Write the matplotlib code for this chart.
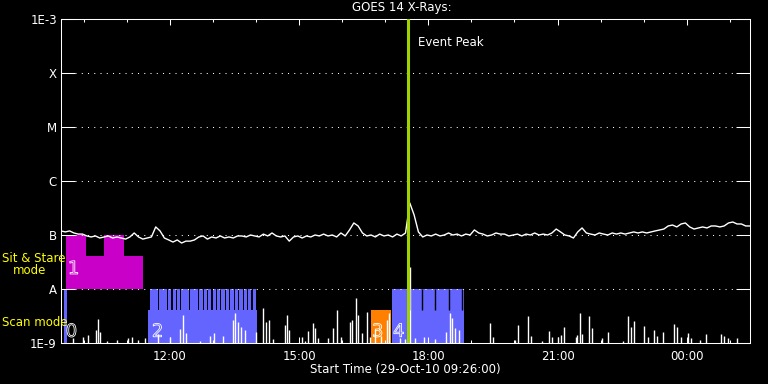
import numpy as np
import matplotlib.pyplot as plt
from matplotlib import patheffects

plt.rcParams['font.family'] = ['DejaVu Sans']
plt.rcParams['font.size'] = 8.5

# hours since 00:00 on 29-Oct-10 (values past 24 run into 30-Oct)
# GOES 14 long channel, 6 min samples from 09:28, in units of 1e-7 W/m2
long_t0 = 9.47
long_dt = 0.1
long_flux = [
    1.19, 1.14, 1.19, 1.09, 1.04, 1.04, 0.96, 0.92, 0.96, 0.88,
    0.92, 0.96, 0.88, 0.92, 0.88, 0.84, 0.92, 1.09, 0.92, 0.84,
    0.88, 0.92, 1.41, 1.19, 0.88, 0.81, 0.74, 0.81, 0.71, 0.77,
    0.77, 0.81, 0.92, 0.96, 0.84, 0.92, 0.88, 0.96, 0.88, 0.92,
    0.88, 0.96, 0.96, 0.92, 1.00, 0.96, 0.92, 1.04, 0.96, 1.09,
    0.96, 0.92, 0.96, 0.77, 0.92, 0.96, 0.88, 0.96, 0.92, 1.00,
    0.96, 1.04, 0.96, 1.00, 0.92, 1.09, 0.96, 1.24, 1.67, 1.47,
    1.09, 0.96, 1.00, 0.92, 1.04, 0.96, 1.00, 0.92, 1.04, 0.96,
    1.09, 3.91, 2.35, 1.14, 0.92, 1.00, 0.96, 1.04, 0.96, 1.00,
    1.09, 1.00, 1.04, 0.96, 1.04, 1.00, 1.24, 1.09, 1.04, 0.96,
    1.00, 1.09, 1.04, 1.04, 0.96, 1.00, 1.04, 0.96, 1.04, 1.00,
    1.09, 1.00, 1.04, 1.00, 1.09, 1.29, 1.14, 1.00, 0.96, 0.88,
    1.14, 1.35, 1.09, 1.04, 1.00, 1.09, 1.04, 1.00, 1.09, 1.04,
    1.09, 1.04, 1.09, 1.14, 1.09, 1.14, 1.09, 1.14, 1.19, 1.24,
    1.29, 1.47, 1.53, 1.41, 1.60, 1.67, 1.41, 1.29, 1.35, 1.41,
    1.35, 1.47, 1.47, 1.41, 1.47, 1.67, 1.74, 1.60, 1.60, 1.47, 1.47,
]

# short channel spikes poking above 1E-9 (units of 1e-9 W/m2)
short_t = [
    9.74, 9.98, 10.09, 10.28, 10.32, 10.37, 10.53, 10.77, 11.02, 11.11,
    11.25, 11.42, 11.72, 12.00, 12.23, 12.30, 12.37, 12.70, 12.93, 13.02,
    13.23, 13.46, 13.51, 13.58, 13.65, 13.74, 14.00, 14.16, 14.23, 14.30,
    14.39, 14.67, 14.72, 14.77, 15.07, 15.14, 15.21, 15.32, 15.37, 15.44,
    15.67, 15.79, 15.88, 15.98, 16.18, 16.23, 16.32, 16.37, 16.46, 16.58,
    16.65, 16.77, 16.91, 17.04, 17.09, 17.35, 17.46, 17.58, 17.70, 17.91,
    18.16, 18.42, 18.51, 18.56, 18.63, 18.72, 19.44, 19.51, 20.02, 20.09,
    20.32, 20.39, 20.65, 20.81, 20.88, 21.02, 21.07, 21.14, 21.42, 21.46,
    21.53, 21.58, 21.72, 21.79, 22.04, 22.18, 22.51, 22.63, 22.70, 22.77,
    23.02, 23.09, 23.25, 23.32, 23.46, 23.70, 23.77, 23.86, 24.02, 24.09,
    24.32, 24.44, 24.79, 24.86, 24.95, 25.16,
]
short_peak = [
    1.24, 1.29, 1.41, 1.74, 2.78, 1.60, 1.09, 1.14, 1.24, 1.29,
    1.14, 1.24, 1.47, 1.29, 1.82, 3.30, 1.53, 1.09, 1.35, 1.53,
    1.35, 2.67, 3.59, 2.45, 1.98, 1.74, 1.60, 4.45, 2.45, 2.67,
    1.19, 2.15, 3.30, 1.74, 1.29, 1.09, 1.67, 2.35, 1.90, 1.24,
    1.24, 1.90, 4.08, 1.29, 2.45, 2.67, 6.81, 3.30, 1.53, 3.75,
    1.29, 1.82, 1.35, 2.67, 3.59, 1.24, 1.19, 25.5, 1.24, 1.29,
    1.19, 1.60, 3.59, 2.90, 1.90, 1.74, 2.35, 1.29, 1.14, 2.15,
    3.16, 1.35, 1.09, 1.67, 1.29, 1.29, 1.41, 1.98, 1.29, 1.41,
    3.59, 1.47, 3.16, 1.90, 1.24, 1.60, 1.09, 3.16, 1.98, 2.56,
    2.07, 1.29, 1.74, 1.35, 1.60, 2.25, 1.98, 1.29, 1.53, 1.24,
    1.14, 1.47, 1.47, 1.35, 1.24, 1.24,
]

# sit & stare observations (between A and B level)
sit_start = [9.59, 10.05, 10.47, 10.93]
sit_end = [10.05, 10.47, 10.93, 11.37]
sit_top = [1.0e-7, 4.1e-8, 1.0e-7, 4.1e-8]

# scan mode observations (between 1E-9 and A level)
scan_start = [9.54, 11.48, 17.16]
scan_end = [9.61, 14.02, 18.83]
scan_top = [1.0e-8, 4.1e-9, 1.0e-8]
raster_start = [11.54, 11.64, 11.75, 11.85, 11.95, 12.06, 12.16, 12.26,
                12.36, 12.47, 12.57, 12.68, 12.78, 12.88, 12.99, 13.09,
                13.19, 13.30, 13.40, 13.50, 13.61, 13.71, 13.81, 13.92]
raster_len = 0.082
raster_top = 1.0e-8
raster_gap_t = [17.56, 17.86, 18.16, 18.47, 18.78]
other_start = [16.67]
other_end = [17.14]
other_top = [4.1e-9]

block_t = [9.58, 9.63, 11.58, 16.69, 17.18]
block_y = [1.1e-9, 1.6e-8, 1.1e-9, 1.1e-9, 1.1e-9]
block_txt = ['0', '1', '2', '3', '4']

event_peak = 17.535

level_vals = [1e-9, 1e-8, 1e-7, 1e-6, 1e-5, 1e-4, 1e-3]
level_lbls = ['1E-9', 'A', 'B', 'C', 'M', 'X', '1E-3']
hour_major = [12, 15, 18, 21, 24]
hour_lbls = ['12:00', '15:00', '18:00', '21:00', '00:00']

fig = plt.figure(figsize=(7.68, 3.84), dpi=100, facecolor='black')
ax = fig.add_axes([61/768, 41/384, 689/768, 324/384])
ax.set_facecolor('black')
ax.set_yscale('log')
ax.set_xlim(9.47, 25.47)
ax.set_ylim(1e-9, 1e-3)

# observation blocks
for s, e, top in zip(sit_start, sit_end, sit_top):
    ax.bar(s, top - 1e-8, width=e - s, bottom=1e-8, align='edge',
           color='#c800c8', linewidth=0, antialiased=False, zorder=1)
for s, e, top in zip(scan_start, scan_end, scan_top):
    ax.bar(s, top - 1e-9, width=e - s, bottom=1e-9, align='edge',
           color='#6464ff', linewidth=0, antialiased=False, zorder=1)
for s in raster_start:
    ax.bar(s, raster_top - 1e-9, width=raster_len, bottom=1e-9, align='edge',
           color='#6464ff', linewidth=0, antialiased=False, zorder=1)
for s, e, top in zip(other_start, other_end, other_top):
    ax.bar(s, top - 1e-9, width=e - s, bottom=1e-9, align='edge',
           color='#ff7f00', linewidth=0, antialiased=False, zorder=1)

# dotted level lines
for v in level_vals[1:-1]:
    ax.axhline(v, xmin=14/689, xmax=675/689, color='white', lw=0.75,
               linestyle=(0, (1, 5)), zorder=3)

# x-ray data
lt = long_t0 + long_dt * np.arange(len(long_flux))
ax.plot(lt, np.array(long_flux) * 1e-7, color='white', lw=1.0, zorder=4)
ax.vlines(short_t, 5e-10, np.array(short_peak) * 1e-9, color='white',
          lw=1.0, zorder=4)
ax.vlines(raster_gap_t, 4.1e-9, 1e-8, color='black', lw=1.0, zorder=4.5)

for t, y, s in zip(block_t, block_y, block_txt):
    ax.text(t, y, s, color='none', fontsize=13, ha='left', va='bottom',
            zorder=5,
            path_effects=[patheffects.Stroke(linewidth=0.6, foreground='white')])

ax.axvline(event_peak, color='#a0d200', lw=2.2, zorder=6)
ax.text(17.76, 0.926, 'Event Peak', color='white', va='center', ha='left',
        transform=ax.get_xaxis_transform(), zorder=7)

# axes / ticks
ax.set_yticks(level_vals)
ax.set_yticklabels(level_lbls)
ax.yaxis.set_minor_locator(plt.NullLocator())
ax.set_xticks(hour_major)
ax.set_xticklabels(hour_lbls)
ax.set_xticks(range(10, 26), minor=True)
ax.tick_params(axis='y', which='major', direction='in', length=10, width=0.75,
               left=True, right=True, colors='white', pad=3)
ax.tick_params(axis='x', which='major', direction='in', length=4.3, width=0.75,
               top=True, bottom=True, colors='white', pad=5)
ax.tick_params(axis='x', which='minor', direction='in', length=2.2, width=0.75,
               top=True, bottom=True, colors='white')
for sp in ax.spines.values():
    sp.set_color('white')
    sp.set_linewidth(0.75)

fig.text(402/768, 1 - 8/384, 'GOES 14 X-Rays:', color='white',
         ha='center', va='center')
fig.text(405/768, 1 - 369/384, 'Start Time (29-Oct-10 09:26:00)',
         color='white', ha='center', va='center')
fig.text(2/768, 1 - 259/384, 'Sit & Stare', color='yellow', ha='left', va='center')
fig.text(13/768, 1 - 271/384, 'mode', color='yellow', ha='left', va='center')
fig.text(2/768, 1 - 323/384, 'Scan mode', color='yellow', ha='left', va='center')

fig.savefig('out.png', dpi=100, facecolor='black')
